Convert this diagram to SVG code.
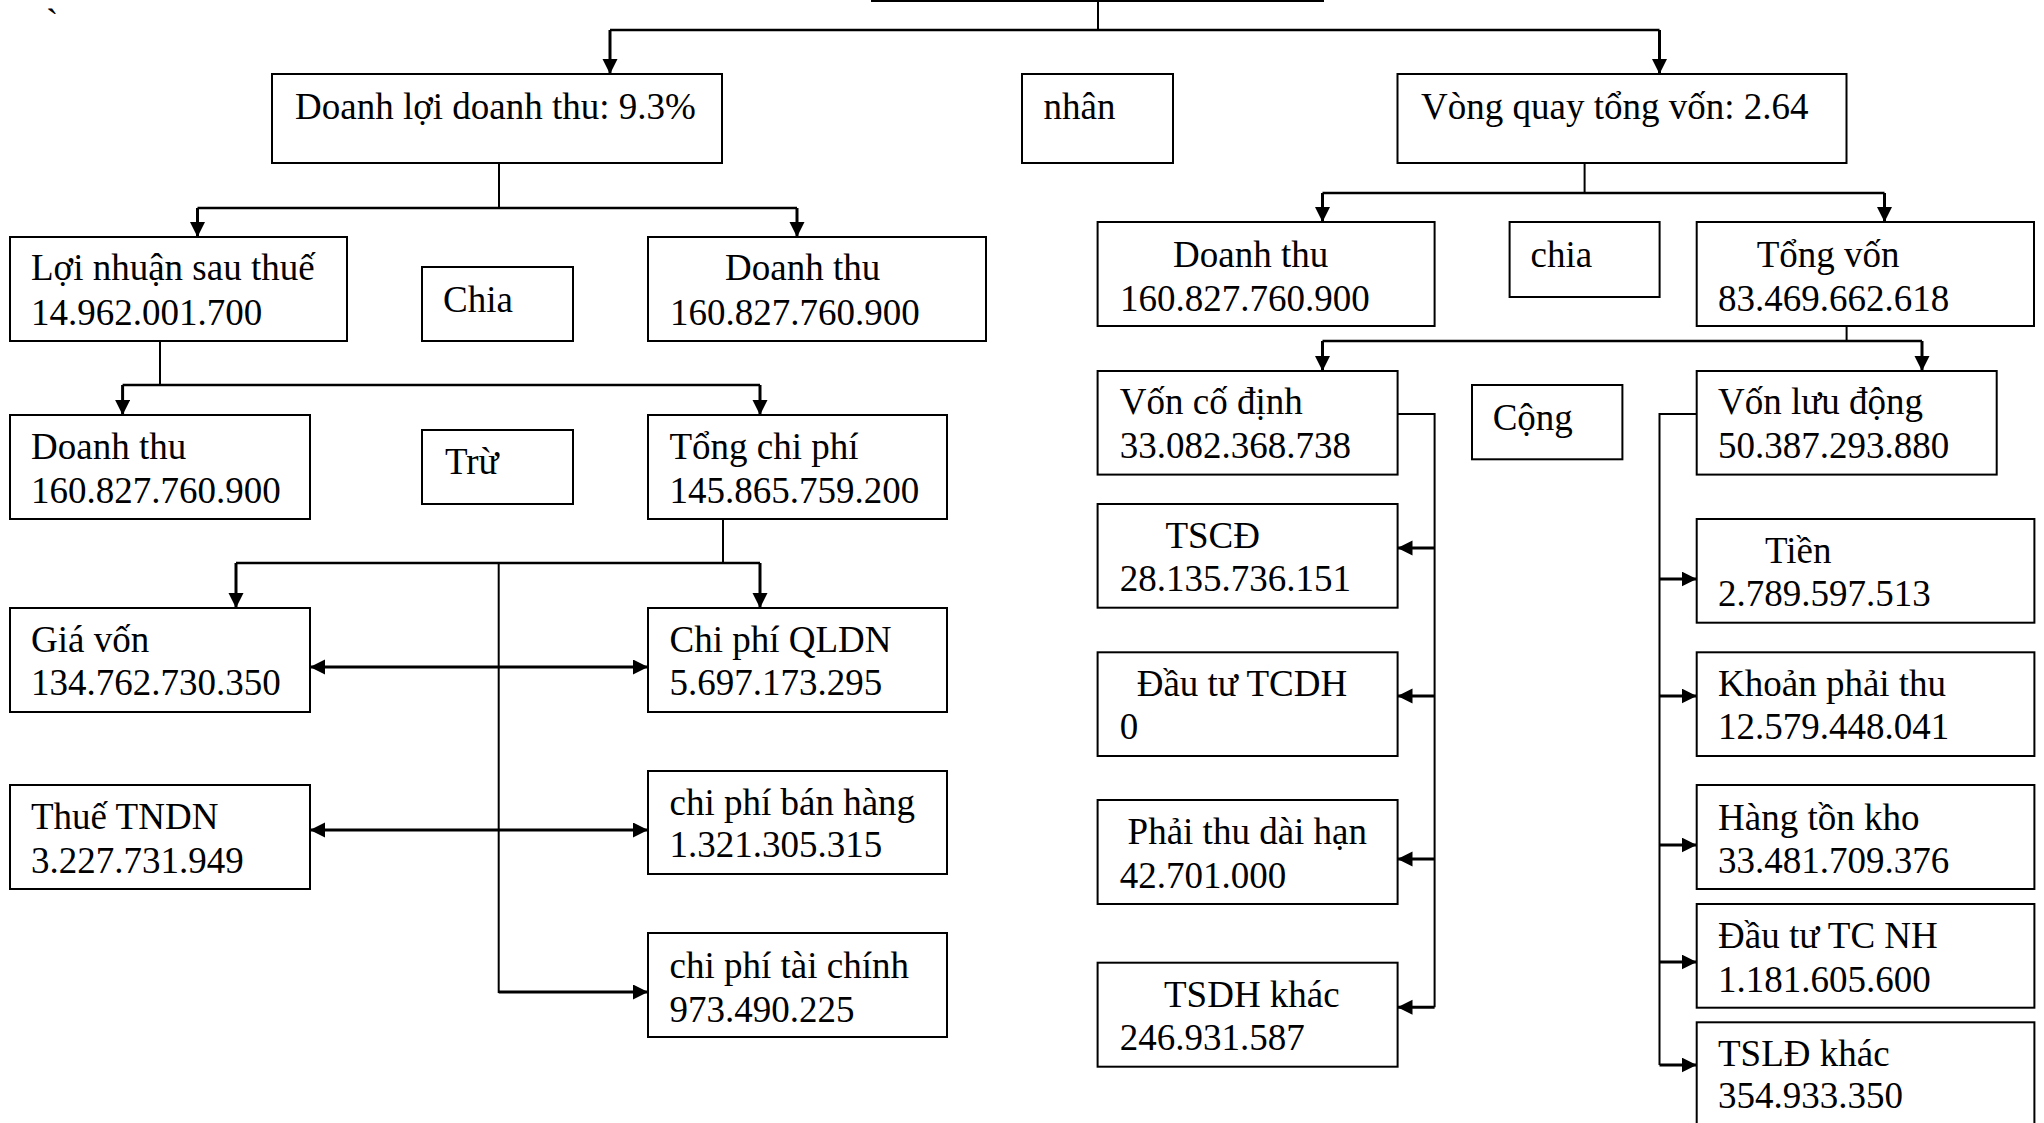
<svg xmlns="http://www.w3.org/2000/svg" width="2044" height="1123" viewBox="0 0 2044 1123">
<style>
.box{fill:#fff;stroke:#000;stroke-width:2}
.t{font-family:"Liberation Serif","Times New Roman",serif;font-size:37px;fill:#000}
.thin{fill:none;stroke:#000;stroke-width:2}
.mid{fill:none;stroke:#000;stroke-width:2.5}
.thk{fill:none;stroke:#000;stroke-width:3}
</style>
<defs>
<marker id="ah" markerWidth="16" markerHeight="16" refX="15" refY="7.5" orient="auto-start-reverse" markerUnits="userSpaceOnUse">
<path d="M0,0 L15,7.5 L0,15 z" fill="#000"/>
</marker>
</defs>
<rect width="2044" height="1123" fill="#fff"/>
<text class="t" x="46" y="35">`</text>

<g id="connectors">
<path class="thin" d="M1098,1 V30"/>
<path class="mid" d="M610,30 H1659.5"/>
<path class="thk" d="M610,30 V74" marker-end="url(#ah)"/>
<path class="thk" d="M1659.5,30 V74" marker-end="url(#ah)"/>

<path class="thin" d="M499,163 V208"/>
<path class="mid" d="M197.5,208 H797"/>
<path class="thk" d="M197.5,208 V237" marker-end="url(#ah)"/>
<path class="thk" d="M797,208 V237" marker-end="url(#ah)"/>

<path class="thin" d="M160,341 V385"/>
<path class="mid" d="M122.6,385 H760"/>
<path class="thk" d="M122.6,385 V415" marker-end="url(#ah)"/>
<path class="thk" d="M760,385 V415" marker-end="url(#ah)"/>

<path class="thin" d="M723,519 V563"/>
<path class="mid" d="M236,563 H760"/>
<path class="thk" d="M236,563 V608" marker-end="url(#ah)"/>
<path class="thk" d="M760,563 V608" marker-end="url(#ah)"/>
<path class="thin" d="M498.7,563 V992 H630"/>
<path class="thk" d="M498.7,992 H648" marker-end="url(#ah)"/>

<path class="thk" d="M310,667 H648" marker-start="url(#ah)" marker-end="url(#ah)"/>
<path class="thk" d="M310,830 H648" marker-start="url(#ah)" marker-end="url(#ah)"/>

<path class="thin" d="M1584.6,163 V193"/>
<path class="mid" d="M1322.5,193 H1884.5"/>
<path class="thk" d="M1322.5,193 V222" marker-end="url(#ah)"/>
<path class="thk" d="M1884.5,193 V222" marker-end="url(#ah)"/>

<path class="thin" d="M1846.6,326 V341"/>
<path class="mid" d="M1322.5,341 H1922"/>
<path class="thk" d="M1322.5,341 V371" marker-end="url(#ah)"/>
<path class="thk" d="M1922,341 V371" marker-end="url(#ah)"/>

<path class="thin" d="M1397.5,414 H1434.6 V1007.3"/>
<path class="thk" d="M1434.6,548 H1397.5" marker-end="url(#ah)"/>
<path class="thk" d="M1434.6,696 H1397.5" marker-end="url(#ah)"/>
<path class="thk" d="M1434.6,859 H1397.5" marker-end="url(#ah)"/>
<path class="thk" d="M1434.6,1007.3 H1397.5" marker-end="url(#ah)"/>

<path class="thin" d="M1696.7,414 H1659.5 V1065"/>
<path class="thk" d="M1659.5,579 H1696.7" marker-end="url(#ah)"/>
<path class="thk" d="M1659.5,696 H1696.7" marker-end="url(#ah)"/>
<path class="thk" d="M1659.5,845 H1696.7" marker-end="url(#ah)"/>
<path class="thk" d="M1659.5,962 H1696.7" marker-end="url(#ah)"/>
<path class="thk" d="M1659.5,1065 H1696.7" marker-end="url(#ah)"/>
</g>

<g id="top"><rect class="box" x="872" y="-50" width="451" height="51"/></g>

<g id="doanh-loi"><rect class="box" x="272" y="74" width="450" height="89"/>
<text class="t" x="295" y="119">Doanh lợi doanh thu: 9.3%</text></g>
<g id="nhan"><rect class="box" x="1022" y="74" width="151" height="89"/>
<text class="t" x="1043.5" y="119">nhân</text></g>
<g id="vong-quay"><rect class="box" x="1397.5" y="74" width="449" height="89"/>
<text class="t" x="1421" y="119">Vòng quay tổng vốn: 2.64</text></g>

<g id="loi-nhuan"><rect class="box" x="10" y="237" width="337" height="104"/>
<text class="t" x="31" y="280">Lợi nhuận sau thuế</text><text class="t" x="31" y="325">14.962.001.700</text></g>
<g id="chia1"><rect class="box" x="422" y="267" width="151" height="74"/>
<text class="t" x="443" y="312">Chia</text></g>
<g id="doanh-thu1"><rect class="box" x="648" y="237" width="338" height="104"/>
<text class="t" x="725" y="280">Doanh thu</text><text class="t" x="670" y="325">160.827.760.900</text></g>

<g id="doanh-thu2"><rect class="box" x="10" y="415" width="300" height="104"/>
<text class="t" x="31" y="459">Doanh thu</text><text class="t" x="31" y="503">160.827.760.900</text></g>
<g id="tru"><rect class="box" x="422" y="430" width="151" height="74"/>
<text class="t" x="445" y="474">Trừ</text></g>
<g id="tong-chi-phi"><rect class="box" x="648" y="415" width="299" height="104"/>
<text class="t" x="669.5" y="459">Tổng chi phí</text><text class="t" x="669.5" y="503">145.865.759.200</text></g>

<g id="gia-von"><rect class="box" x="10" y="608" width="300" height="104"/>
<text class="t" x="31" y="652">Giá vốn</text><text class="t" x="31" y="695">134.762.730.350</text></g>
<g id="qldn"><rect class="box" x="648" y="608" width="299" height="104"/>
<text class="t" x="669.5" y="652">Chi phí QLDN</text><text class="t" x="669.5" y="695">5.697.173.295</text></g>
<g id="thue"><rect class="box" x="10" y="785" width="300" height="104"/>
<text class="t" x="31" y="829">Thuế TNDN</text><text class="t" x="31" y="873">3.227.731.949</text></g>
<g id="ban-hang"><rect class="box" x="648" y="771" width="299" height="103"/>
<text class="t" x="669.5" y="815">chi phí bán hàng</text><text class="t" x="669.5" y="857">1.321.305.315</text></g>
<g id="tai-chinh"><rect class="box" x="648" y="933" width="299" height="104"/>
<text class="t" x="669.5" y="978">chi phí tài chính</text><text class="t" x="669.5" y="1022">973.490.225</text></g>

<g id="doanh-thu3"><rect class="box" x="1097.6" y="222" width="337" height="104"/>
<text class="t" x="1173" y="267">Doanh thu</text><text class="t" x="1120" y="311">160.827.760.900</text></g>
<g id="chia2"><rect class="box" x="1509.6" y="222" width="150" height="75"/>
<text class="t" x="1530.5" y="267">chia</text></g>
<g id="tong-von"><rect class="box" x="1696.7" y="222" width="337.3" height="104"/>
<text class="t" x="1756.7" y="267">Tổng vốn</text><text class="t" x="1718" y="311">83.469.662.618</text></g>

<g id="von-co-dinh"><rect class="box" x="1097.6" y="371" width="300" height="103.6"/>
<text class="t" x="1119.8" y="414">Vốn cố định</text><text class="t" x="1119.8" y="458">33.082.368.738</text></g>
<g id="cong"><rect class="box" x="1472" y="385" width="150.4" height="74.3"/>
<text class="t" x="1492.7" y="430">Cộng</text></g>
<g id="von-luu-dong"><rect class="box" x="1696.7" y="371" width="300" height="103.6"/>
<text class="t" x="1718" y="414">Vốn lưu động</text><text class="t" x="1718" y="458">50.387.293.880</text></g>

<g id="tscd"><rect class="box" x="1097.6" y="504" width="300" height="103.7"/>
<text class="t" x="1165.4" y="548">TSCĐ</text><text class="t" x="1119.8" y="591">28.135.736.151</text></g>
<g id="dau-tu-tcdh"><rect class="box" x="1097.6" y="652.3" width="300" height="103.7"/>
<text class="t" x="1136.7" y="696">Đầu tư TCDH</text><text class="t" x="1119.8" y="739">0</text></g>
<g id="phai-thu-dai-han"><rect class="box" x="1097.6" y="800" width="300" height="104"/>
<text class="t" x="1127.6" y="844">Phải thu dài hạn</text><text class="t" x="1119.8" y="888">42.701.000</text></g>
<g id="tsdh-khac"><rect class="box" x="1097.6" y="962.7" width="300" height="104"/>
<text class="t" x="1164" y="1007">TSDH khác</text><text class="t" x="1119.8" y="1050">246.931.587</text></g>

<g id="tien"><rect class="box" x="1696.7" y="519" width="337.7" height="103.7"/>
<text class="t" x="1765" y="563">Tiền</text><text class="t" x="1718" y="606">2.789.597.513</text></g>
<g id="khoan-phai-thu"><rect class="box" x="1696.7" y="652.3" width="337.7" height="103.7"/>
<text class="t" x="1718" y="696">Khoản phải thu</text><text class="t" x="1718" y="739">12.579.448.041</text></g>
<g id="hang-ton-kho"><rect class="box" x="1696.7" y="785" width="337.7" height="104"/>
<text class="t" x="1718" y="830">Hàng tồn kho</text><text class="t" x="1718" y="873">33.481.709.376</text></g>
<g id="dau-tu-tcnh"><rect class="box" x="1696.7" y="904" width="337.7" height="103.7"/>
<text class="t" x="1718" y="948">Đầu tư TC NH</text><text class="t" x="1718" y="992">1.181.605.600</text></g>
<g id="tsld-khac"><rect class="box" x="1696.7" y="1022.3" width="337.7" height="150"/>
<text class="t" x="1718" y="1066">TSLĐ khác</text><text class="t" x="1718" y="1108">354.933.350</text></g>
</svg>
